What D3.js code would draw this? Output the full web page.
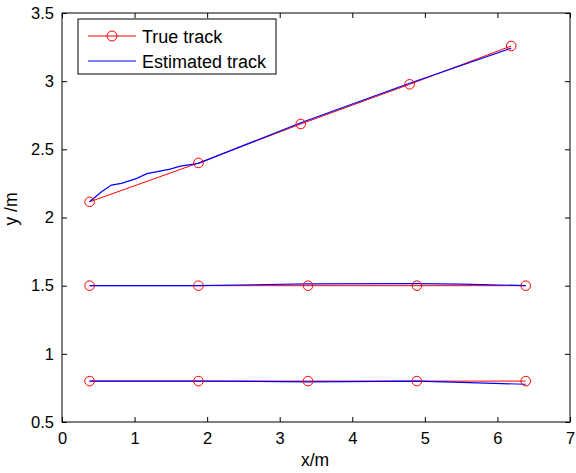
<!DOCTYPE html>
<html>
<head>
<meta charset="utf-8">
<script src="https://cdn.jsdelivr.net/npm/d3@7"></script>
<style>
  body { margin: 0; background: #fff; }
  svg text { font-family: "Liberation Sans", Arial, sans-serif; }
</style>
</head>
<body>
<div id="chart"></div>
<script>
// true track (red, circles) - three rows
const trueTop = [[0.38, 2.115], [1.88, 2.40], [3.29, 2.686], [4.79, 2.977], [6.19, 3.258]];
const trueMid = [[0.38, 1.5], [1.88, 1.5], [3.39, 1.5], [4.89, 1.5], [6.39, 1.5]];
const trueLow = [[0.38, 0.8], [1.88, 0.8], [3.39, 0.8], [4.89, 0.8], [6.39, 0.8]];

// estimated track (blue)
const estTop = [[0.38, 2.115], [0.55, 2.19], [0.68, 2.238], [0.82, 2.25], [1.03, 2.287], [1.17, 2.322],
  [1.35, 2.34], [1.49, 2.355], [1.63, 2.377], [1.88, 2.397], [3.29, 2.695], [4.79, 2.985], [6.19, 3.242]];
const estMid = [[0.38, 1.5], [1.88, 1.5], [3.39, 1.513], [4.89, 1.515], [5.5, 1.512], [6.39, 1.5]];
const estLow = [[0.38, 0.8], [1.88, 0.8], [3.39, 0.795], [4.89, 0.8], [5.5, 0.79], [6.39, 0.777]];

const xTicks = [0, 1, 2, 3, 4, 5, 6, 7];
const yTicks = [0.5, 1, 1.5, 2, 2.5, 3, 3.5];

const W = 576, H = 473;
const margin = { top: 13, right: 6, bottom: 51, left: 62 };
const width = W - margin.left - margin.right;
const height = H - margin.top - margin.bottom;

const svg = d3.select("#chart").append("svg")
  .attr("width", W).attr("height", H);
const g = svg.append("g")
  .attr("transform", "translate(" + margin.left + "," + margin.top + ")");

const x = d3.scaleLinear().domain([0, 7]).range([0, width]);
const y = d3.scaleLinear().domain([0.5, 3.5]).range([height, 0]);

// axes, ticks pointing inwards, on all four sides
const styleAxis = (sel) => {
  sel.select(".domain").remove();
  sel.selectAll("line").attr("stroke", "#000");
  sel.selectAll("text").attr("fill", "#000").style("font-size", "16.5px");
};
g.append("g").attr("transform", "translate(0," + height + ")")
  .call(d3.axisBottom(x).tickValues(xTicks).tickSize(-5).tickPadding(10).tickFormat(d3.format("")))
  .call(styleAxis);
g.append("g")
  .call(d3.axisLeft(y).tickValues(yTicks).tickSize(-5).tickPadding(8).tickFormat(d3.format("")))
  .call(styleAxis);
g.append("g")
  .call(d3.axisTop(x).tickValues(xTicks).tickSize(-5).tickFormat(""))
  .call(styleAxis);
g.append("g").attr("transform", "translate(" + width + ",0)")
  .call(d3.axisRight(y).tickValues(yTicks).tickSize(-5).tickFormat(""))
  .call(styleAxis);

g.append("rect").attr("width", width).attr("height", height)
  .attr("fill", "none").attr("stroke", "#000").attr("stroke-width", 1);

const line = d3.line().x(d => x(d[0])).y(d => y(d[1]));

[trueTop, trueMid, trueLow].forEach(s => {
  g.append("path").datum(s).attr("d", line)
    .attr("fill", "none").attr("stroke", "#ff0000").attr("stroke-width", 1);
});
[estTop, estMid, estLow].forEach(s => {
  g.append("path").datum(s).attr("d", line)
    .attr("fill", "none").attr("stroke", "#0000ff").attr("stroke-width", 1.2);
});
[trueTop, trueMid, trueLow].forEach(s => {
  g.selectAll(null).data(s).join("circle")
    .attr("cx", d => x(d[0])).attr("cy", d => y(d[1])).attr("r", 4.8)
    .attr("fill", "none").attr("stroke", "#ff0000").attr("stroke-width", 1);
});

// axis labels
svg.append("text").attr("x", 315).attr("y", 466)
  .attr("text-anchor", "middle").style("font-size", "17.5px").text("x/m");
svg.append("text")
  .attr("transform", "translate(17,209) rotate(-90)")
  .attr("text-anchor", "middle").style("font-size", "17.5px").text("y /m");

// legend
const lg = svg.append("g").attr("transform", "translate(78,19)");
lg.append("rect").attr("width", 198).attr("height", 55)
  .attr("fill", "#fff").attr("stroke", "#000").attr("stroke-width", 1);
lg.append("line").attr("x1", 10).attr("x2", 58).attr("y1", 17).attr("y2", 17)
  .attr("stroke", "#ff0000");
lg.append("circle").attr("cx", 34).attr("cy", 17).attr("r", 5)
  .attr("fill", "none").attr("stroke", "#ff0000");
lg.append("text").attr("x", 64).attr("y", 23.5).style("font-size", "18px").text("True track");
lg.append("line").attr("x1", 10).attr("x2", 58).attr("y1", 42).attr("y2", 42)
  .attr("stroke", "#0000ff");
lg.append("text").attr("x", 64).attr("y", 48.5).style("font-size", "18px").text("Estimated track");
</script>
</body>
</html>
